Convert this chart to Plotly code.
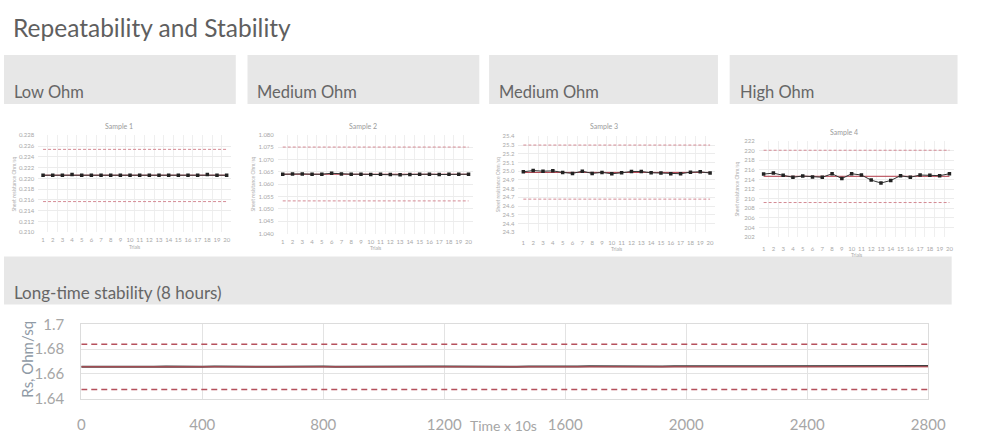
import plotly.graph_objects as go

FONT = "Lato"

# ---------------- data ----------------
trials = list(range(1, 21))
trial_labels = [str(t) for t in trials]

sample1 = [0.2206, 0.2206, 0.2206, 0.22072, 0.2206, 0.2206, 0.2206, 0.2206, 0.2206, 0.2206,
           0.2206, 0.2206, 0.2206, 0.2206, 0.2206, 0.2206, 0.2206, 0.22072, 0.2206, 0.2206]
sample1_mean = 0.2206
sample1_limits = [0.2254, 0.2157]
sample1_ticks = [0.210, 0.212, 0.214, 0.216, 0.218, 0.220, 0.222, 0.224, 0.226, 0.228]
sample1_ticktext = ["0.210", "0.212", "0.214", "0.216", "0.218", "0.220", "0.222", "0.224", "0.226", "0.228"]

sample2 = [1.0640, 1.06413, 1.06413, 1.0640, 1.0640, 1.06439, 1.06413, 1.0640, 1.0640, 1.06387,
           1.0640, 1.06387, 1.06374, 1.0639, 1.0640, 1.0640, 1.06387, 1.0640, 1.0640, 1.0640]
sample2_mean = 1.0640
sample2_limits = [1.0750, 1.0532]
sample2_ticks = [1.040, 1.045, 1.050, 1.055, 1.060, 1.065, 1.070, 1.075, 1.080]
sample2_ticktext = ["1.040", "1.045", "1.050", "1.055", "1.060", "1.065", "1.070", "1.075", "1.080"]

sample3 = [24.993, 25.008, 25.000, 25.004, 24.986, 24.975, 25.000, 24.975, 24.986, 24.971,
           24.982, 24.997, 24.997, 24.982, 24.979, 24.971, 24.971, 24.989, 24.993, 24.979]
sample3_mean = 24.986
sample3_limits = [25.30, 24.68]
sample3_ticks = [24.3, 24.4, 24.5, 24.6, 24.7, 24.8, 24.9, 25.0, 25.1, 25.2, 25.3, 25.4]
sample3_ticktext = ["24.3", "24.4", "24.5", "24.6", "24.7", "24.8", "24.9", "25.0", "25.1", "25.2", "25.3", "25.4"]

sample4 = [215.13, 215.33, 214.87, 214.47, 214.73, 214.53, 214.47, 215.20, 214.20, 215.20,
           214.93, 213.87, 213.27, 213.80, 214.80, 214.47, 214.93, 214.87, 214.80, 215.20]
sample4_mean = 214.67
sample4_limits = [220.1, 209.2]
sample4_ticks = [202, 204, 206, 208, 210, 212, 214, 216, 218, 220, 222]
sample4_ticktext = [str(v) for v in sample4_ticks]

long_time = list(range(0, 2801, 40))
long_values = [
    1.6657, 1.6656, 1.6658, 1.6657, 1.6656, 1.6658, 1.6657, 1.6659, 1.6657, 1.6658,
    1.6657, 1.6658, 1.6659, 1.6658, 1.6656, 1.6657, 1.6656, 1.6658, 1.6659, 1.6657,
    1.6658, 1.6657, 1.6658, 1.6659, 1.6657, 1.6658, 1.6660, 1.6657, 1.6658, 1.6659,
    1.6659, 1.6658, 1.6657, 1.6658, 1.6659, 1.6658, 1.6657, 1.6659, 1.6658, 1.6659,
    1.6658, 1.6659, 1.6660, 1.6659, 1.6658, 1.6660, 1.6659, 1.6660, 1.6659, 1.6660,
    1.6660, 1.6661, 1.6660, 1.6662, 1.6661, 1.6660, 1.6661, 1.6662, 1.6661, 1.6660,
    1.6661, 1.6662, 1.6661, 1.6662, 1.6661, 1.6662, 1.6663, 1.6662, 1.6661, 1.6663,
    1.6662,
]
long_mean = 1.6657
long_limits = [1.6838, 1.6473]
long_xticks = [0, 400, 800, 1200, 1600, 2000, 2400, 2800]
long_xticktext = [str(v) for v in long_xticks]
long_yticks = [1.64, 1.66, 1.68, 1.70]
long_yticktext = ["1.64", "1.66", "1.68", "1.7"]

headers = ["Low Ohm", "Medium Ohm", "Medium Ohm", "High Ohm"]
sample_titles = ["Sample 1", "Sample 2", "Sample 3", "Sample 4"]

# ---------------- layout helpers ----------------
W, H = 1000, 442


def px(x):
    return x / W


def py(y):
    return 1 - y / H


fig = go.Figure()
shapes = []
annotations = []

# page title
annotations.append(dict(text="Repeatability and Stability", x=px(7), y=py(18), xref="paper", yref="paper",
                        xanchor="left", yanchor="middle", showarrow=False,
                        font=dict(family=FONT, size=24.5, color="#5f5f5f")))

# header boxes
header_boxes = [(0, 237), (249, 486), (496, 730), (742, 975)]
for (x0, x1), txt in zip(header_boxes, headers):
    shapes.append(dict(type="rect", xref="paper", yref="paper", x0=px(x0), x1=px(x1), y0=py(98), y1=py(47),
                       fillcolor="#e7e7e7", line=dict(width=0), layer="below"))
    annotations.append(dict(text=txt, x=px(x0 + 8), y=py(85), xref="paper", yref="paper",
                            xanchor="left", yanchor="middle", showarrow=False,
                            font=dict(family=FONT, size=16.5, color="#666666")))

# long-time band
shapes.append(dict(type="rect", xref="paper", yref="paper", x0=px(0), x1=px(969), y0=py(307), y1=py(257),
                   fillcolor="#e7e7e7", line=dict(width=0), layer="below"))
annotations.append(dict(text="Long-time stability (8 hours)", x=px(8), y=py(295), xref="paper", yref="paper",
                        xanchor="left", yanchor="middle", showarrow=False,
                        font=dict(family=FONT, size=17, color="#666666")))

# small charts
small = [
    dict(data=sample1, mean=sample1_mean, lim=sample1_limits, ticks=sample1_ticks, tt=sample1_ticktext,
         left=35, right=232.6, top=130.7, bottom=231.7, title=(118, 121), ytitle_x=10, trials_y=247, std=3),
    dict(data=sample2, mean=sample2_mean, lim=sample2_limits, ticks=sample2_ticks, tt=sample2_ticktext,
         left=280, right=480, top=130, bottom=233, title=(367, 121), ytitle_x=255, trials_y=248, std=3),
    dict(data=sample3, mean=sample3_mean, lim=sample3_limits, ticks=sample3_ticks, tt=sample3_ticktext,
         left=526, right=727, top=131.7, bottom=231.7, title=(613, 121), ytitle_x=505, trials_y=249, std=6),
    dict(data=sample4, mean=sample4_mean, lim=sample4_limits, ticks=sample4_ticks, tt=sample4_ticktext,
         left=771.7, right=971.7, top=136.7, bottom=236.7, title=(859, 127), ytitle_x=750, trials_y=255, std=7),
]

for i, c in enumerate(small, start=1):
    xa = "x" if i == 1 else f"x{i}"
    ya = "y" if i == 1 else f"y{i}"
    for lv in c["lim"]:
        fig.add_trace(go.Scatter(x=[trials[0], trials[-1]], y=[lv, lv], mode="lines", xaxis=xa, yaxis=ya,
                                 line=dict(color="#d48a94", width=1, dash="3px,2px"), showlegend=False,
                                 hoverinfo="skip"))
    fig.add_trace(go.Scatter(x=[trials[0], trials[-1]], y=[c["mean"], c["mean"]], mode="lines", xaxis=xa, yaxis=ya,
                             line=dict(color="#b03a48", width=1), showlegend=False, hoverinfo="skip"))
    fig.add_trace(go.Scatter(x=trials, y=c["data"], mode="lines+markers", xaxis=xa, yaxis=ya,
                             line=dict(color="#333333", width=1),
                             marker=dict(color="#222222", size=3.5, symbol="square"), showlegend=False))

    xkey = "xaxis" if i == 1 else f"xaxis{i}"
    ykey = "yaxis" if i == 1 else f"yaxis{i}"
    fig.update_layout({
        xkey: dict(domain=[px(c["left"]), px(c["right"])], anchor=ya, range=[0.5, 20.5],
                   tickvals=trials, ticktext=trial_labels, showgrid=False, zeroline=False,
                   tickfont=dict(family=FONT, size=6, color="#a8a8a8"), ticks="",
                   ticklabelstandoff=c["std"],
                   minor=dict(tick0=0.5, dtick=1, showgrid=True, gridcolor="#efefef", gridwidth=1),
                   showline=False),
        ykey: dict(domain=[py(c["bottom"]), py(c["top"])], anchor=xa,
                   range=[c["ticks"][0], c["ticks"][-1]], tickvals=c["ticks"], ticktext=c["tt"],
                   showgrid=True, gridcolor="#ececec", gridwidth=1, zeroline=False,
                   tickfont=dict(family=FONT, size=6, color="#a8a8a8"), ticks="", ticklabelstandoff=3),
    })
    tx, ty = c["title"]
    annotations.append(dict(text=sample_titles[i - 1], x=px(tx), y=py(ty), xref="paper", yref="paper",
                            xanchor="center", yanchor="middle", showarrow=False,
                            font=dict(family=FONT, size=7, color="#9a9a9a")))
    annotations.append(dict(text="Trials", x=px((c["left"] + c["right"]) / 2), y=py(c["trials_y"]),
                            xref="paper", yref="paper", xanchor="center", yanchor="middle", showarrow=False,
                            font=dict(family=FONT, size=5, color="#a8a8a8")))
    annotations.append(dict(text="Sheet resistance Ohm/sq", x=px(c["ytitle_x"]),
                            y=py((c["top"] + c["bottom"]) / 2), xref="paper", yref="paper",
                            xanchor="center", yanchor="middle", showarrow=False, textangle=-90,
                            font=dict(family=FONT, size=5, color="#b0b0b0")))

# long-time chart
for lv in long_limits:
    fig.add_trace(go.Scatter(x=[long_time[0], long_time[-1]], y=[lv, lv], mode="lines", xaxis="x5", yaxis="y5",
                             line=dict(color="#b5505c", width=1.5, dash="6px,4px"), showlegend=False,
                             hoverinfo="skip"))
fig.add_trace(go.Scatter(x=long_time, y=long_values, mode="lines", xaxis="x5", yaxis="y5",
                         line=dict(color="#404040", width=2), showlegend=False))
fig.add_trace(go.Scatter(x=[long_time[0], long_time[-1]], y=[long_mean, long_mean], mode="lines",
                         xaxis="x5", yaxis="y5", line=dict(color="rgba(192,80,90,0.75)", width=1.5),
                         showlegend=False, hoverinfo="skip"))

fig.update_layout(
    xaxis5=dict(domain=[px(79), px(945)], anchor="y5", range=[0, 2800], tickvals=long_xticks,
                ticktext=long_xticktext, showgrid=True, gridcolor="#e3e3e3", zeroline=False,
                tickfont=dict(family=FONT, size=15, color="#a6a6a6"), ticks="", ticklabelstandoff=12,
                showline=True, linecolor="#dcdcdc", mirror=True),
    yaxis5=dict(domain=[py(405), py(327.7)], anchor="x5", range=[1.64, 1.70], tickvals=long_yticks,
                ticktext=long_yticktext, showgrid=True, gridcolor="#e3e3e3", zeroline=False,
                tickfont=dict(family=FONT, size=15, color="#a6a6a6"), ticks="", ticklabelstandoff=13,
                showline=True, linecolor="#dcdcdc", mirror=True),
)
annotations.append(dict(text="Time x 10s", x=px(511), y=py(433), xref="paper", yref="paper",
                        xanchor="center", yanchor="middle", showarrow=False,
                        font=dict(family=FONT, size=14, color="#a6a6a6")))
annotations.append(dict(text="Rs, Ohm/sq", x=px(24), y=py(364), xref="paper", yref="paper",
                        xanchor="center", yanchor="middle", showarrow=False, textangle=-90,
                        font=dict(family=FONT, size=15, color="#8f9aa6")))

fig.update_layout(width=W, height=H, margin=dict(l=0, r=0, t=0, b=0, pad=0), paper_bgcolor="white",
                  plot_bgcolor="white", shapes=shapes, annotations=annotations, showlegend=False,
                  font=dict(family=FONT))

fig.write_html(
    "out.html",
    config={"displayModeBar": False},
    post_script=(
        "document.body.style.margin='0';document.body.style.padding='0';"
        "document.body.style.overflow='hidden';"
    ),
)
